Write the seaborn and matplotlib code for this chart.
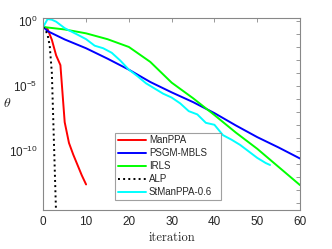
import numpy as np
import pandas as pd
import matplotlib
matplotlib.use("Agg")
import matplotlib.pyplot as plt
import seaborn as sns
from matplotlib.ticker import FixedLocator, FixedFormatter, NullLocator

# ---- data (log10 of theta) ----
manppa_x = [0, 1, 2, 3, 4, 5, 6, 7, 8, 9, 10]
manppa_y = [-0.45, -0.62, -1.45, -2.65, -3.4, -7.8, -9.4, -10.3, -11.1, -11.9, -12.6]

psgm_x = [0, 1, 5, 10, 15, 20, 25, 30, 35, 40, 45, 50, 55, 60]
psgm_y = [-0.45, -0.78, -1.42, -2.1, -2.9, -3.75, -4.7, -5.5, -6.25, -7.1, -8.05, -8.95, -9.75, -10.6]

irls_x = [0, 1, 5, 10, 15, 20, 25, 30, 35, 40, 45, 50, 55, 60]
irls_y = [-0.45, -0.5, -0.65, -0.95, -1.4, -2.0, -3.15, -4.75, -5.95, -7.25, -8.6, -9.85, -11.25, -12.65]

alp_x = [0, 0.5, 1, 1.5, 2, 2.5, 3]
alp_y = [-0.45, -0.7, -1.05, -1.9, -4.0, -9.5, -15.0]

stman_x = [0, 1, 2, 3, 4, 5, 6, 8, 10, 12, 14, 16, 18, 20, 22, 24, 26, 28, 30,
           32, 34, 36, 38, 40, 42, 44, 46, 48, 50, 52, 53]
stman_y = [-0.45, 0.15, 0.1, -0.05, -0.3, -0.55, -0.72, -1.05, -1.4, -1.9, -2.1,
           -2.45, -3.05, -3.75, -4.25, -4.8, -5.2, -5.6, -5.9, -6.35, -6.95, -7.2,
           -7.85, -8.0, -8.8, -9.15, -9.55, -10.05, -10.55, -10.95, -11.1]

series = [
    ("ManPPA", manppa_x, manppa_y, "#ff0000", "-"),
    ("PSGM-MBLS", psgm_x, psgm_y, "#0000ff", "-"),
    ("IRLS", irls_x, irls_y, "#00ff00", "-"),
    ("ALP", alp_x, alp_y, "#000000", ":"),
    ("StManPPA-0.6", stman_x, stman_y, "#00ffff", "-"),
]

xticks = [0, 10, 20, 30, 40, 50, 60]
ytick_exps = [0, -5, -10]
ytick_labels = [r"$\mathregular{10^{0}}$", r"$\mathregular{10^{-5}}$", r"$\mathregular{10^{-10}}$"]

sns.set_style("white")
plt.rcParams["font.family"] = ["Liberation Sans", "DejaVu Sans"]
plt.rcParams["mathtext.fontset"] = "cm"

fig = plt.figure(figsize=(3.32, 2.49), dpi=100)
ax = fig.add_axes([43.3 / 332, 1 - 210 / 249, (300 - 43.3) / 332, (210 - 18.3) / 249])

handles = []
for name, xs, ys, col, ls in series:
    df = pd.DataFrame({"iteration": xs, "theta": 10.0 ** np.array(ys)})
    sns.lineplot(data=df, x="iteration", y="theta", ax=ax, color=col,
                 linestyle=ls, linewidth=1.4, label=name, legend=False)
    handles.append(ax.lines[-1])

ax.set_yscale("log")
ax.set_xlim(0, 60)
ax.set_ylim(10 ** -14.57, 10 ** 0.21)

ax.xaxis.set_major_locator(FixedLocator(xticks))
ax.set_xticklabels([str(t) for t in xticks])
major = [10.0 ** e for e in range(0, -15, -1)]
ax.yaxis.set_major_locator(FixedLocator(major))
labs = []
for e in range(0, -15, -1):
    if e in ytick_exps:
        labs.append(ytick_labels[ytick_exps.index(e)])
    else:
        labs.append("")
ax.yaxis.set_major_formatter(FixedFormatter(labs))
ax.yaxis.set_minor_locator(NullLocator())

for s in ax.spines.values():
    s.set_color("#888888")
    s.set_linewidth(0.8)
ax.tick_params(axis="both", which="major", direction="in", length=3, width=0.6,
               color="#888888", top=True, right=True, labelsize=8.5, pad=4,
               labelcolor="#262626")

ax.set_xlabel("iteration", fontfamily="cmr10", fontsize=9, labelpad=3, color="#262626")
ax.set_ylabel(r"$\theta$", fontsize=10, rotation=0, color="#262626")
ax.yaxis.set_label_coords(-0.14, 0.52)

leg = ax.legend(handles=handles, labels=[s[0] for s in series],
                loc="lower left", bbox_to_anchor=(0.279, 0.052, 0.413, 0.381),
                mode="expand", fontsize=7, frameon=True, fancybox=False,
                handlelength=2.9, handletextpad=0.3, borderpad=0.3,
                labelspacing=0.3, borderaxespad=0)
leg.get_frame().set_edgecolor("#888888")
leg.get_frame().set_linewidth(0.8)

fig.savefig("out.png", dpi=100)
